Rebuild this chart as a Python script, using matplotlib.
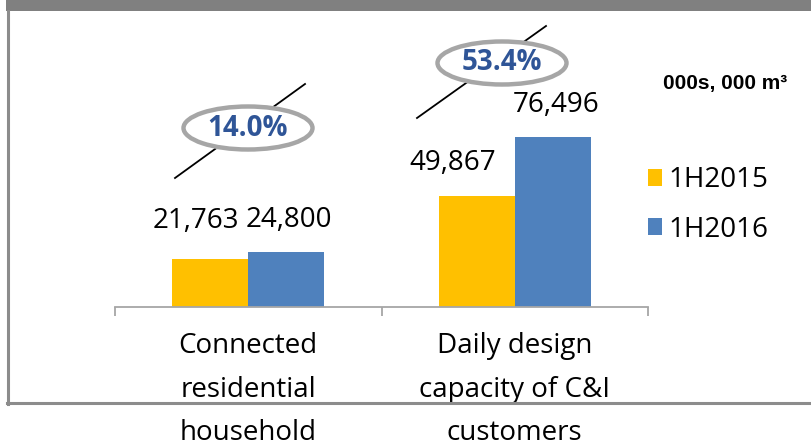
import matplotlib
matplotlib.use("Agg")
import matplotlib.pyplot as plt
from matplotlib.patches import Ellipse, Rectangle, Patch
from matplotlib.lines import Line2D
import matplotlib.transforms as mtrans

categories = ["Connected\nresidential\nhousehold", "Daily design\ncapacity of C&I\ncustomers"]
series_names = ["1H2015", "1H2016"]
values_2015 = [21763, 49867]
values_2016 = [24800, 76496]
growth_labels = ["14.0%", "53.4%"]
unit_label = "000s, 000 m\u00b3"

colors = ["#FFC000", "#4F81BD"]
FONT = "Open Sans"

W, H = 811, 448
fig = plt.figure(figsize=(W / 100, H / 100), dpi=100)
fig.patch.set_facecolor("white")

# pixel transform (origin top-left)
px = mtrans.Affine2D().scale(1 / W, -1 / H).translate(0, 1) + fig.transFigure

ax_left, ax_right, ax_base, ax_top = 115, 648, 307, 20
ax = fig.add_axes([ax_left / W, (H - ax_base) / H, (ax_right - ax_left) / W, (ax_base - ax_top) / H])
ax.set_facecolor("none")

cat_w = (ax_right - ax_left) / 2
bw = 76 / cat_w
xs = list(range(len(categories)))
b1 = ax.bar([x - bw / 2 for x in xs], values_2015, width=bw, color=colors[0], label=series_names[0])
b2 = ax.bar([x + bw / 2 for x in xs], values_2016, width=bw, color=colors[1], label=series_names[1])
ax.set_xlim(-0.5, 1.5)
ax.set_ylim(0, max(values_2016) * (ax_base - ax_top) / 170)

for s in ["top", "right", "left"]:
    ax.spines[s].set_visible(False)
ax.spines["bottom"].set_color("#A6A6A6")
ax.spines["bottom"].set_linewidth(1.3)
ax.set_yticks([])
ax.set_xticks([-0.5, 0.5, 1.5])
ax.set_xticklabels([])
ax.tick_params(axis="x", which="major", length=6.5, color="#A6A6A6", width=1.3, direction="out")
ax.set_xticks(xs, minor=True)
ax.set_xticklabels(categories, minor=True, fontsize=20, family=FONT, linespacing=1.74)
ax.tick_params(axis="x", which="minor", length=0, pad=18)

# data labels
offsets_2015 = [(-14, 38), (-24, 33)]
offsets_2016 = [(3, 32), (3, 32)]
for rect, v, off in zip(b1, values_2015, offsets_2015):
    ax.annotate(f"{v:,}", (rect.get_x() + rect.get_width() / 2, v), xytext=off,
                textcoords="offset pixels", ha="center", va="center", fontsize=20, family=FONT)
for rect, v, off in zip(b2, values_2016, offsets_2016):
    ax.annotate(f"{v:,}", (rect.get_x() + rect.get_width() / 2, v), xytext=off,
                textcoords="offset pixels", ha="center", va="center", fontsize=20, family=FONT)

# growth callouts (pixel coordinates)
callouts = [((175, 178), (305, 84), (248, 128)), ((417, 118), (546, 26), (502, 63))]
for (p0, p1, c), lab in zip(callouts, growth_labels):
    fig.add_artist(Line2D([p0[0], p1[0]], [p0[1], p1[1]], transform=px, color="black", lw=1.3, zorder=2))
    fig.add_artist(Ellipse(c, 129, 43, transform=px, facecolor="white", edgecolor="#A6A6A6", lw=3.2, zorder=3))
    fig.text(c[0], c[1], lab, transform=px, ha="center", va="center", fontsize=20,
             fontweight="bold", color="#2F5597", family=FONT, zorder=4)

# unit label
fig.text(663, 84, unit_label, transform=px, ha="left", va="center", fontsize=15,
         fontweight="bold", family="Liberation Sans")

# legend
handles = [Patch(facecolor=colors[0]), Patch(facecolor=colors[1])]
leg = fig.legend(handles, series_names, loc="upper left", bbox_to_anchor=(648 / W, 1 - 166 / H),
                 frameon=False, prop={"family": FONT, "size": 20}, handlelength=0.5,
                 handleheight=0.55, handletextpad=0.22, labelspacing=0.78, borderpad=0, borderaxespad=0)

# header bar and frame
fig.add_artist(Rectangle((6, 0), W - 6, 11, transform=px, facecolor="#808080", edgecolor="none"))
fig.add_artist(Line2D([7.5, 7.5], [11, 404], transform=px, color="#8C8C8C", lw=2.2))
fig.add_artist(Line2D([6.5, W], [403.5, 403.5], transform=px, color="#8C8C8C", lw=2.2))

fig.savefig("out.png", dpi=100)
